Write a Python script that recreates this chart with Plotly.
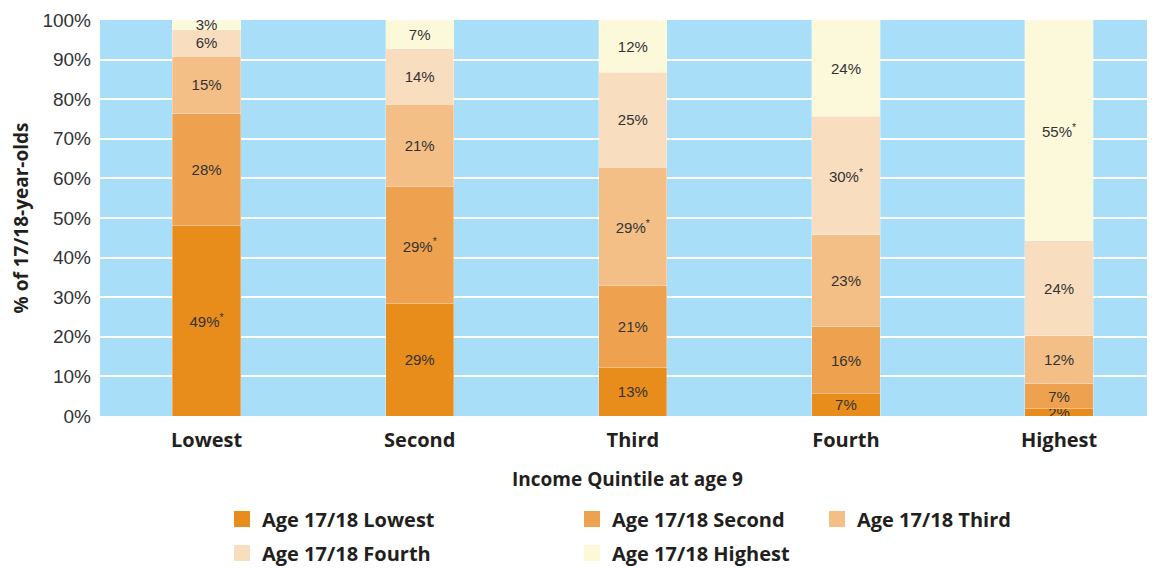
import plotly.graph_objects as go

# income quintile at age 9 (x categories)
quintiles = ["Lowest", "Second", "Third", "Fourth", "Highest"]

# quintile at age 17/18 (stacked series), segment shares in %
series_names = ["Age 17/18 Lowest", "Age 17/18 Second", "Age 17/18 Third",
                "Age 17/18 Fourth", "Age 17/18 Highest"]
series_values = [
    [48.1, 28.4, 12.2, 5.6, 1.8],
    [28.4, 29.6, 20.7, 16.9, 6.3],
    [14.4, 20.7, 29.9, 23.3, 12.2],
    [6.6, 14.0, 24.0, 29.9, 24.0],
    [2.5, 7.3, 13.2, 24.3, 55.7],
]
# printed labels ("*" marks significant differences)
series_labels = [
    ["49%*", "29%", "13%", "7%", "2%"],
    ["28%", "29%*", "21%", "16%", "7%"],
    ["15%", "21%", "29%*", "23%", "12%"],
    ["6%", "14%", "25%", "30%*", "24%"],
    ["3%", "7%", "12%", "24%", "55%*"],
]
series_colors = ["#E88C1C", "#EEA24F", "#F4BF86", "#F9DDBF", "#FCF8DA"]

# which legend box each series goes in (three columns like the original)
legend_ids = ["legend", "legend2", "legend3", "legend", "legend2"]

BOLD = "Open Sans"
TEXT = "#231F20"

fig = go.Figure()
for name, vals, labels, color in zip(series_names, series_values, series_labels, series_colors):
    fig.add_trace(
        go.Bar(
            x=quintiles,
            y=vals,
            name=name,
            text=[t.replace("*", "<sup>*</sup>") for t in labels],
            textposition="inside",
            insidetextanchor="middle",
            constraintext="none",
            textangle=0,
            textfont=dict(family="Liberation Sans", size=15, color="#333333"),
            marker=dict(color=color, line=dict(width=0.6, color="rgba(255,255,255,0.5)")),
            showlegend=False,
            hoverinfo="skip",
        )
    )

# legend entries: square swatches bigger than the default bar symbol
for name, color, lg in zip(series_names, series_colors, legend_ids):
    fig.add_trace(
        go.Scatter(
            x=[None],
            y=[None],
            mode="markers",
            name=name,
            marker=dict(symbol="square", size=16, color=color),
            legend=lg,
            legendgroup=name,
        )
    )

legend_common = dict(
    orientation="v",
    xanchor="left",
    yanchor="top",
    y=-0.211,
    font=dict(family=BOLD, size=20, color=TEXT, weight="bold"),
    bgcolor="rgba(0,0,0,0)",
    tracegroupgap=5,
    traceorder="grouped",
)

# the page body has an 8px margin; the figure is a bit taller than the window
# so the legends never push the bottom margin
fig.update_layout(
    barmode="stack",
    bargap=0.68,
    width=1147,
    height=575,
    margin=dict(l=92, r=0, t=12, b=167),
    paper_bgcolor="white",
    plot_bgcolor="#A8DEF8",
    legend=dict(x=(222 - 100) / 1055, **legend_common),
    legend2=dict(x=(572 - 100) / 1055, **legend_common),
    legend3=dict(x=(817 - 100) / 1055, **legend_common),
)
fig.update_yaxes(
    range=[0, 100],
    dtick=10,
    ticksuffix="%",
    showgrid=True,
    gridcolor="white",
    gridwidth=2,
    zeroline=False,
    showline=False,
    automargin=False,
    tickfont=dict(family="Liberation Sans", size=19, color="#333333"),
    ticklabelstandoff=8,
    title=dict(text="% of 17/18-year-olds", standoff=12,
               font=dict(family=BOLD, size=19, color=TEXT, weight="bold")),
)
# the original plot area runs on past the right edge, so the last slot is cut short
fig.update_xaxes(
    range=[-0.5, 4.45],
    showgrid=False,
    showline=False,
    automargin=False,
    tickfont=dict(family=BOLD, size=20, color=TEXT, weight="bold"),
    ticklabelstandoff=10,
    title=dict(text="Income Quintile at age 9", standoff=20,
               font=dict(family=BOLD, size=19, color=TEXT, weight="bold")),
)

fig.write_html("out.html")
